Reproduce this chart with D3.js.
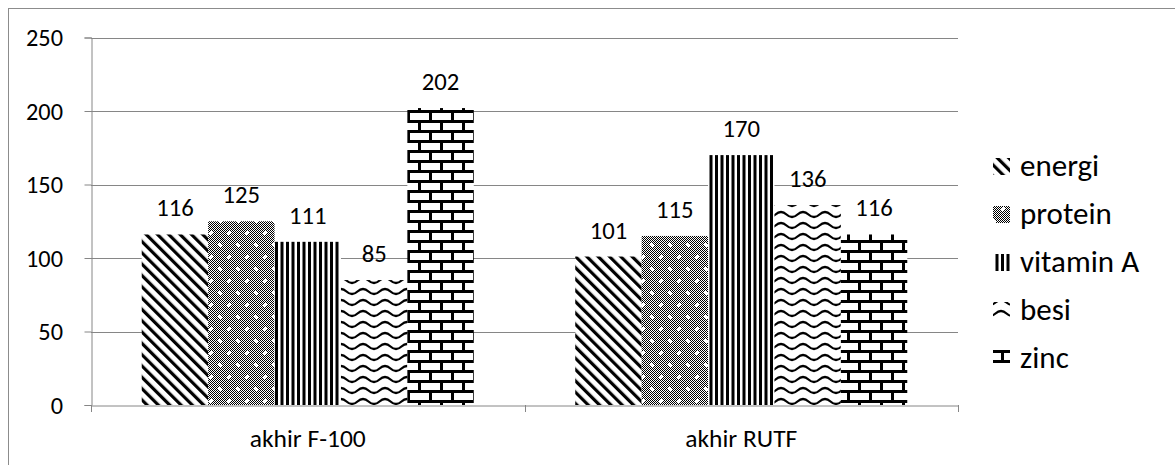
<!DOCTYPE html>
<html>
<head>
<meta charset="utf-8">
<script src="https://cdn.jsdelivr.net/npm/d3@7/dist/d3.min.js"></script>
<style>
  html, body { margin: 0; padding: 0; background: #fff; }
  svg { display: block; }
  text { font-family: Carlito, Calibri, Lato, sans-serif; fill: #000; }
</style>
</head>
<body>
<svg id="chart" width="1175" height="465"></svg>
<script>
// ---- data ----
const categories = ["akhir F-100", "akhir RUTF"];
const seriesNames = ["energi", "protein", "vitamin A", "besi", "zinc"];
const energi   = [116, 101];
const protein  = [125, 115];
const vitaminA = [111, 170];
const besi     = [85, 136];
const zinc     = [202, 116];
const yTicks   = [0, 50, 100, 150, 200, 250];

const seriesValues = [energi, protein, vitaminA, besi, zinc];
const patternIds = ["pEnergi", "pProtein", "pVitA", "pBesi", "pZinc"];

const svg = d3.select("#chart");
const W = 1175, H = 465;
const FONT = "Carlito, Calibri, Lato, sans-serif";

// outer chart border
svg.append("rect").attr("x", 8.5).attr("y", 8.5).attr("width", W).attr("height", H)
  .attr("fill", "none").attr("stroke", "#8c8c8c").attr("stroke-width", 1);

// ---- patterns ----
const defs = svg.append("defs");
// energi: wide downward diagonal
const pe = defs.append("pattern").attr("id", "pEnergi").attr("patternUnits", "userSpaceOnUse")
  .attr("width", 8).attr("height", 8).attr("patternTransform", "rotate(-45)");
pe.append("rect").attr("width", 8).attr("height", 8).attr("fill", "#fff");
pe.append("rect").attr("width", 3.2).attr("height", 8).attr("fill", "#000");

// protein: 50% checker with white dots
const pc = defs.append("pattern").attr("id", "pChecker").attr("patternUnits", "userSpaceOnUse")
  .attr("width", 2).attr("height", 2);
pc.append("rect").attr("width", 2).attr("height", 2).attr("fill", "#fff");
pc.append("rect").attr("width", 1).attr("height", 1).attr("fill", "#000");
pc.append("rect").attr("x", 1).attr("y", 1).attr("width", 1).attr("height", 1).attr("fill", "#000");
const pp = defs.append("pattern").attr("id", "pProtein").attr("patternUnits", "userSpaceOnUse")
  .attr("width", 18).attr("height", 24);
pp.append("rect").attr("width", 18).attr("height", 24).attr("fill", "url(#pChecker)");
[[4, 5], [13, 17]].forEach(([cx, cy]) => {
  pp.append("rect").attr("x", cx - 1).attr("y", cy - 2).attr("width", 2).attr("height", 4).attr("fill", "#fff");
  pp.append("rect").attr("x", cx - 2).attr("y", cy - 1).attr("width", 4).attr("height", 2).attr("fill", "#fff");
});

// vitamin A: dark vertical lines
const pv = defs.append("pattern").attr("id", "pVitA").attr("patternUnits", "userSpaceOnUse")
  .attr("width", 11).attr("height", 4);
pv.append("rect").attr("width", 11).attr("height", 4).attr("fill", "#fff");
pv.append("rect").attr("x", 0).attr("width", 3).attr("height", 4).attr("fill", "#000");
pv.append("rect").attr("x", 5.5).attr("width", 3).attr("height", 4).attr("fill", "#000");

// besi: wave
const pw = defs.append("pattern").attr("id", "pBesi").attr("patternUnits", "userSpaceOnUse")
  .attr("width", 22).attr("height", 11);
pw.append("rect").attr("width", 22).attr("height", 11).attr("fill", "#fff");
pw.append("path").attr("d", "M0,8 C5.5,8 5.5,3 11,3 C16.5,3 16.5,8 22,8")
  .attr("fill", "none").attr("stroke", "#000").attr("stroke-width", 2.3);

// zinc: horizontal brick
const pz = defs.append("pattern").attr("id", "pZinc").attr("patternUnits", "userSpaceOnUse")
  .attr("width", 22).attr("height", 20);
pz.append("rect").attr("width", 22).attr("height", 20).attr("fill", "#fff");
pz.append("rect").attr("x", 0).attr("y", 0).attr("width", 22).attr("height", 3).attr("fill", "#000");
pz.append("rect").attr("x", 0).attr("y", 10).attr("width", 22).attr("height", 3).attr("fill", "#000");
pz.append("rect").attr("x", 0).attr("y", 0).attr("width", 3).attr("height", 10).attr("fill", "#000");
pz.append("rect").attr("x", 11).attr("y", 10).attr("width", 3).attr("height", 10).attr("fill", "#000");

// ---- scales ----
const plot = { left: 91, right: 958, top: 37.5, bottom: 405 };
const y = d3.scaleLinear().domain([0, 250]).range([plot.bottom, plot.top]);
const x0 = d3.scaleBand().domain(categories).range([plot.left, plot.right]).padding(0);
const x1 = d3.scaleBand().domain(seriesNames).range([0, x0.bandwidth()])
  .paddingInner(0).paddingOuter(0.764);

// gridlines
svg.append("g").selectAll("line").data(yTicks.filter(d => d > 0)).join("line")
  .attr("x1", plot.left).attr("x2", plot.right)
  .attr("y1", d => Math.round(y(d)) + 0.5).attr("y2", d => Math.round(y(d)) + 0.5)
  .attr("stroke", "#868686").attr("stroke-width", 1);

// bars
const g = svg.append("g");
seriesNames.forEach((s, si) => {
  g.append("g").selectAll("rect").data(categories).join("rect")
    .attr("x", c => x0(c) + x1(s))
    .attr("y", (c, ci) => y(seriesValues[si][ci]))
    .attr("width", x1.bandwidth())
    .attr("height", (c, ci) => y(0) - y(seriesValues[si][ci]))
    .attr("fill", `url(#${patternIds[si]})`);
});

// axes
const yAxis = svg.append("g").attr("transform", `translate(${plot.left + 0.5},0)`)
  .call(d3.axisLeft(y).tickValues(yTicks).tickSize(7).tickPadding(21.5).tickFormat(d3.format("d")));
yAxis.select(".domain").attr("stroke", "#868686");
yAxis.selectAll(".tick line").attr("stroke", "#868686");
yAxis.selectAll(".tick text").attr("font-size", 24.3).attr("fill", "#000")
  .attr("font-family", FONT).attr("dy", "0.34em");

const xAxis = svg.append("g").attr("transform", `translate(0,${plot.bottom + 0.5})`)
  .call(d3.axisBottom(x0).tickSize(0));
xAxis.select(".domain").attr("stroke", "#868686");
xAxis.selectAll(".tick text").attr("font-size", 25.5).attr("fill", "#000")
  .attr("font-family", FONT).attr("y", 41.5).attr("dy", 0);
// category separator ticks
const sepX = [plot.left, x0(categories[1]), plot.right];
svg.append("g").selectAll("line").data(sepX).join("line")
  .attr("x1", d => Math.round(d) + 0.5).attr("x2", d => Math.round(d) + 0.5)
  .attr("y1", plot.bottom).attr("y2", plot.bottom + 7)
  .attr("stroke", "#868686");

// data labels
seriesNames.forEach((s, si) => {
  svg.append("g").selectAll("text").data(categories).join("text")
    .attr("x", c => x0(c) + x1(s) + x1.bandwidth() / 2)
    .attr("y", (c, ci) => y(seriesValues[si][ci]) - 18)
    .attr("text-anchor", "middle").attr("font-size", 24.7)
    .text((c, ci) => seriesValues[si][ci]);
});

// legend
const legend = svg.append("g");
const ly = d3.scalePoint().domain(seriesNames).range([168, 360]);
seriesNames.forEach((s, si) => {
  legend.append("rect").attr("x", 993).attr("y", ly(s) - 10).attr("width", 17).attr("height", 17)
    .attr("fill", `url(#${patternIds[si]})`);
  legend.append("text").attr("x", 1020).attr("y", ly(s) + 8)
    .attr("font-size", 31).text(s);
});
</script>
</body>
</html>
